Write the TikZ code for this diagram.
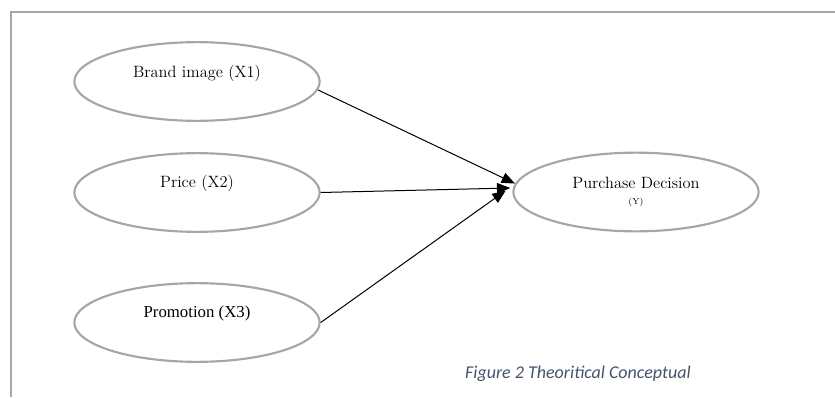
\documentclass[tikz,border=0pt]{standalone}
\usepackage{fontspec}
\newfontfamily\capfont{Carlito}
\newfontfamily\timesfont{Liberation Serif}
\usetikzlibrary{shapes.geometric,arrows.meta}
\definecolor{rimgray}{HTML}{A6A6A6}
\definecolor{capblue}{HTML}{44546A}
\begin{document}
\begin{tikzpicture}[x=0.75pt,y=-0.75pt,
    var/.style={ellipse,draw=rimgray,line width=1.6pt,minimum width=184pt,minimum height=59pt,inner sep=0pt},
    vtext/.style={font=\fontsize{12.3}{14}\selectfont,inner sep=0pt,align=center},
    link/.style={line width=0.75pt,-{Triangle[length=10pt,width=8pt]}}]
  \useasboundingbox (0,0) rectangle (835,397);
  \draw[rimgray,line width=1.5pt] (11,397) -- (11,12) -- (835,12);
  % variables
  \node[var](brand)at(197,81.5){};
  \node[vtext](brandt)at(197,73){Brand image (X1)};
  \node[var](price)at(197,192.5){};
  \node[vtext](pricet)at(197,183){Price (X2)};
  \node[var](promo)at(197,322.5){};
  \node[vtext,font=\timesfont\fontsize{12.6}{14}\selectfont](promot)at(197,313){Promotion (X3)};
  \node[var](purch)at(636,192){};
  \node[vtext](purcht)at(636,183){Purchase Decision};
  \node[vtext,font=\fontsize{6.5}{7}\selectfont](purchy)at(636,202){(Y)};
  % paths
  \draw[link](brand.-4)--(purch.176);
  \draw[link](price.east)--([xshift=-1.5pt,yshift=3pt]purch.west);
  \draw[link](promo.east)--([xshift=-5pt,yshift=1pt]purch.west);
  \node[font=\capfont\itshape\fontsize{13.5}{16}\selectfont,text=capblue](cap)at(578,374){Figure 2 Theoritical Conceptual};
\end{tikzpicture}
\end{document}
